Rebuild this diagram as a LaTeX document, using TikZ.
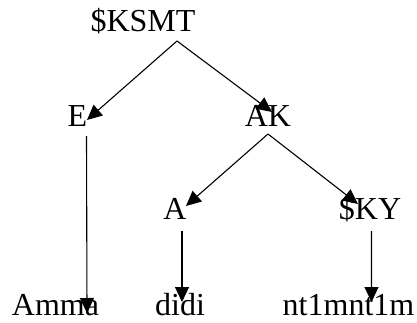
\documentclass[tikz,border=0pt]{standalone}
\usepackage{fontspec}
\setmainfont{Liberation Serif}
\usepackage{tikz}
\usetikzlibrary{arrows.meta,calc}

\begin{document}
\begin{tikzpicture}[x=10pt, y=10pt]
\tikzset{word/.style = {anchor=base, inner sep=0pt, font=\fontsize{32}{38}\selectfont}}
\tikzset{edge/.style = {-{Triangle[length=15pt,width=14pt]}, line width=1.1pt}}
\useasboundingbox (0,0) rectangle (41.7,32.2);

% vertices
\node[word] (ksmt) at (14.3,29.0) {\$KSMT};
\node[word] (e) at (7.75,19.6) {E};
\node[word] (ak) at (26.8,19.6) {AK};
\node[word] (a) at (17.5,10.3) {A};
\node[word] (ky) at (37.0,10.3) {\$KY};
\node[word] (amma) at (5.55,0.7) {Amma};
\node[word] (didi) at (18.0,0.7) {didi};
\node[word] (nt) at (34.85,0.7) {nt1mnt1m};
%edges
\draw[edge] ($(ksmt.base)+(3.4,-0.9)$) to ($(e.base)+(0.95,0.6)$);
\draw[edge] ($(ksmt.base)+(3.4,-0.9)$) to ($(ak.base)+(0.4,1.4)$);
\draw[edge] ($(e.base)+(0.9,-1.0)$) to ($(amma.base)+(3.15,0.2)$);
\draw[edge] ($(ak.base)+(0,-0.8)$) to ($(a.base)+(1.1,1.3)$);
\draw[edge] ($(ak.base)+(0,-0.8)$) to ($(ky.base)+(-1.2,1.5)$);
\draw[edge] ($(a.base)+(0.7,-1.2)$) to ($(didi.base)+(0.2,1.3)$);
\draw[edge] ($(ky.base)+(0.15,-1.2)$) to ($(nt.base)+(2.3,1.3)$);
\end{tikzpicture}
\end{document}
